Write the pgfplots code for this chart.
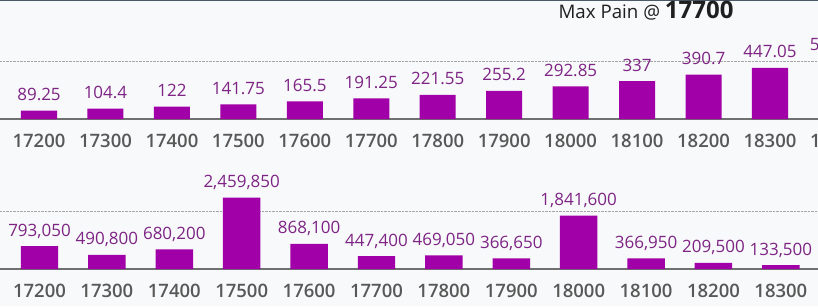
\documentclass[border=0pt]{standalone}
\usepackage{fontspec}
\IfFontExistsTF{Open Sans SemiBold}{%
  \setmainfont{Open Sans}[BoldFont={Open Sans SemiBold}]}{%
  \IfFontExistsTF{Open Sans Semibold}{%
    \setmainfont{Open Sans}[BoldFont={Open Sans Semibold}]}{%
    \setmainfont{Open Sans}}}
\newfontfamily\titlebold{Open Sans}
\usepackage{pgfplots}
\usepackage{pgfplotstable}
\pgfplotsset{compat=1.18}
\definecolor{barc}{RGB}{161,0,168}
\definecolor{labc}{RGB}{125,36,132}
\definecolor{tickc}{RGB}{88,88,88}
\definecolor{bgc}{RGB}{248,249,250}
\definecolor{axc}{RGB}{112,112,112}
\definecolor{topc}{RGB}{75,89,102}

\pgfplotstableread{
x y lab
0 89.25 89.25
1 104.4 104.4
2 122 122
3 141.75 141.75
4 165.5 165.5
5 191.25 191.25
6 221.55 221.55
7 255.2 255.2
8 292.85 292.85
9 337 337
10 390.7 390.7
11 447.05 447.05
12 510.85 510.85
}\toptab

\pgfplotstableread{
x y lab
0 793050 793,050
1 490800 490,800
2 680200 680,200
3 2459850 2,459,850
4 868100 868,100
5 447400 447,400
6 469050 469,050
7 366650 366,650
8 1841600 1,841,600
9 366950 366,950
10 209500 209,500
11 133500 133,500
}\bottab

\pgfplotsset{myax/.style={
  scale only axis,
  axis line style={draw=none},
  major tick length=0pt,
  scaled y ticks=false,
  xtick=data,
  xticklabels={17200,17300,17400,17500,17600,17700,17800,17900,18000,18100,18200,18300,18400},
  yticklabels={},
  ymajorgrids,
  grid style={densely dotted, black!35, line width=0.6pt},
  xticklabel style={font=\bfseries\fontsize{18.5}{20}\selectfont, text=tickc, anchor=base, yshift=-28pt},
  ybar,
  nodes near coords,
  point meta=explicit symbolic,
  every node near coord/.append style={font=\fontsize{17}{19}\selectfont, text=labc, anchor=base, yshift=10pt, inner sep=0pt},
  extra y tick labels={},
  extra y tick style={grid=major, major grid style={solid, axc, line width=2pt}},
}}

\begin{document}
\begin{tikzpicture}[x=1pt,y=1pt]
\useasboundingbox (0,0) rectangle (818,306);
\clip (0,0) rectangle (818,306);
\fill[bgc] (0,0) rectangle (818,306);
\fill[topc] (0,304.5) rectangle (818,306);

\begin{axis}[myax,
  at={(0pt,187pt)}, anchor=south west,
  width=876.3pt, height=116.7pt,
  xmin=-0.587, xmax=12.6, ymin=17.7, ymax=1000,
  bar width=0.542,
  ytick={500},
  extra y ticks={17.7},
  title={Max Pain @ {\titlebold\bfseries\fontsize{24}{26}\selectfont 17700}},
  title style={font=\fontsize{18.7}{20}\selectfont, text=black!88, at={(0.7372,0.814)}, anchor=base, inner sep=0pt},
]
\addplot[fill=barc, draw=none] table[x=x, y=y, meta=lab] {\toptab};
\end{axis}

\begin{axis}[myax,
  at={(0pt,37pt)}, anchor=south west,
  width=888.7pt, height=101.5pt,
  xmin=-0.586, xmax=12.6, ymin=0, ymax=3500000,
  bar width=0.556,
  ytick={2000000},
  extra y ticks={0},
]
\addplot[fill=barc, draw=none] table[x=x, y=y, meta=lab] {\bottab};
\end{axis}
\end{tikzpicture}
\end{document}
